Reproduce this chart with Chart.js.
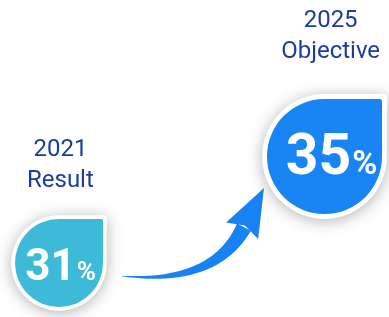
<!DOCTYPE html>
<html>
<head>
<meta charset="utf-8">
<script src="https://cdn.jsdelivr.net/npm/chart.js@4/dist/chart.umd.min.js"></script>
<style>
  html, body { margin: 0; padding: 0; background: #ffffff; }
  #wrap { width: 389px; height: 317px; position: relative; }
</style>
</head>
<body>
<div id="wrap"><canvas id="c"></canvas></div>
<script>
// ---- data ----
const years = ['2021', '2025'];
const captions = ['Result', 'Objective'];
const values = [31, 35];
const valueSuffix = '%';

// ---- styles ----
const fillColors = ['#3cbad8', '#1984f4'];
const arrowColor = '#1882f4';
const labelColor = '#1a3d9e';
const radii = [44, 57.5];

function tearPath(ctx, cx, cy, R, cr) {
  ctx.beginPath();
  ctx.moveTo(cx + R, cy);
  ctx.arc(cx, cy, R, 0, 1.5 * Math.PI);
  ctx.arcTo(cx + R, cy - R, cx + R, cy, cr);
  ctx.closePath();
}

const dropPlugin = {
  id: 'drops',
  afterDatasetsDraw(chart) {
    const ctx = chart.ctx;
    const pts = chart.getDatasetMeta(0).data;
    const a = pts[0], b = pts[1];
    const ra = a.options.radius;

    // ---- arrow ----
    ctx.save();
    const T = { x: a.x + ra + 19, y: a.y + 13 };
    const tip = { x: b.x - 60.5, y: b.y + 31.5 };
    let d = { x: 21, y: -41 };
    const dl = Math.hypot(d.x, d.y); d = { x: d.x / dl, y: d.y / dl };
    const nn = { x: -d.y, y: d.x };
    const headLen = 44, barb = 18, shaftW = 15;
    const P2 = { x: tip.x - d.x * headLen, y: tip.y - d.y * headLen };
    const P1 = { x: P2.x - d.x * 65, y: P2.y - d.y * 65 };
    const P0 = T;
    const N = 40;
    const up = [], lo = [];
    for (let i = 0; i <= N; i++) {
      const t = i / N;
      const x = (1 - t) * (1 - t) * P0.x + 2 * t * (1 - t) * P1.x + t * t * P2.x;
      const y = (1 - t) * (1 - t) * P0.y + 2 * t * (1 - t) * P1.y + t * t * P2.y;
      let dx = 2 * (1 - t) * (P1.x - P0.x) + 2 * t * (P2.x - P1.x);
      let dy = 2 * (1 - t) * (P1.y - P0.y) + 2 * t * (P2.y - P1.y);
      const l = Math.hypot(dx, dy); dx /= l; dy /= l;
      const w = shaftW * Math.pow(t, 1.0) / 2 + 0.3;
      up.push({ x: x - dy * w, y: y + dx * w });
      lo.push({ x: x + dy * w, y: y - dx * w });
    }
    ctx.fillStyle = arrowColor;
    ctx.beginPath();
    ctx.moveTo(up[0].x, up[0].y);
    for (let i = 1; i <= N; i++) ctx.lineTo(up[i].x, up[i].y);
    for (let i = N; i >= 0; i--) ctx.lineTo(lo[i].x, lo[i].y);
    ctx.closePath();
    ctx.fill();
    ctx.beginPath();
    ctx.moveTo(P2.x + nn.x * barb - d.x * 4, P2.y + nn.y * barb - d.y * 4);
    ctx.lineTo(tip.x, tip.y);
    ctx.lineTo(P2.x - nn.x * barb - d.x * 4, P2.y - nn.y * barb - d.y * 4);
    ctx.lineTo(P2.x + d.x * 2, P2.y + d.y * 2);
    ctx.closePath();
    ctx.fill();
    ctx.restore();

    // ---- drops ----
    pts.forEach((el, i) => {
      const R = el.options.radius;
      const cx = el.x, cy = el.y;
      const border = R * 0.085;
      ctx.save();
      ctx.shadowColor = 'rgba(0,0,0,0.30)';
      ctx.shadowBlur = 15;
      ctx.shadowOffsetX = 0;
      ctx.shadowOffsetY = 2;
      ctx.fillStyle = '#ffffff';
      tearPath(ctx, cx, cy, R + border, 3);
      ctx.fill();
      ctx.restore();

      ctx.save();
      ctx.fillStyle = fillColors[i];
      tearPath(ctx, cx, cy, R, 2);
      ctx.fill();

      // value text
      const fBig = Math.round(R * 0.99);
      const fSmall = Math.round(fBig * 0.6);
      ctx.fillStyle = '#ffffff';
      ctx.textBaseline = 'alphabetic';
      ctx.font = 'bold ' + fBig + 'px Roboto';
      const num = String(values[i]);
      const wN = ctx.measureText(num).width;
      ctx.font = 'bold ' + fSmall + 'px Roboto';
      const wP = ctx.measureText(valueSuffix).width;
      const gap = 1;
      const tot = wN + gap + wP;
      const tx = cx + (R - 40) * 0.4 - tot / 2;
      const by = cy + 17;
      ctx.textAlign = 'left';
      ctx.font = 'bold ' + fBig + 'px Roboto';
      ctx.fillText(num, tx, by);
      ctx.font = 'bold ' + fSmall + 'px Roboto';
      ctx.fillText(valueSuffix, tx + wN + gap, by);

      // labels
      ctx.fillStyle = labelColor;
      ctx.font = '24px Roboto';
      ctx.textAlign = 'center';
      const lx = cx + (R - 40) * 0.35;
      const b2 = cy - R - 0.72 * R;
      ctx.fillText(captions[i], lx, b2);
      ctx.fillText(years[i], lx, b2 - 31);
      ctx.restore();
    });
  }
};

new Chart(document.getElementById('c'), {
  type: 'scatter',
  data: {
    datasets: [{
      data: values.map((v, i) => ({ x: i, y: v })),
      pointRadius: radii,
      pointStyle: false,
      backgroundColor: fillColors,
      clip: false
    }]
  },
  options: {
    responsive: true,
    maintainAspectRatio: false,
    animation: false,
    events: [],
    layout: { padding: 0, autoPadding: false },
    plugins: { legend: { display: false }, tooltip: { enabled: false } },
    scales: {
      x: { type: 'linear', display: false, min: -0.2222, max: 1.2429 },
      y: { type: 'linear', display: false, min: 28.972, max: 40.878 }
    }
  },
  plugins: [dropPlugin]
});
</script>
</body>
</html>
